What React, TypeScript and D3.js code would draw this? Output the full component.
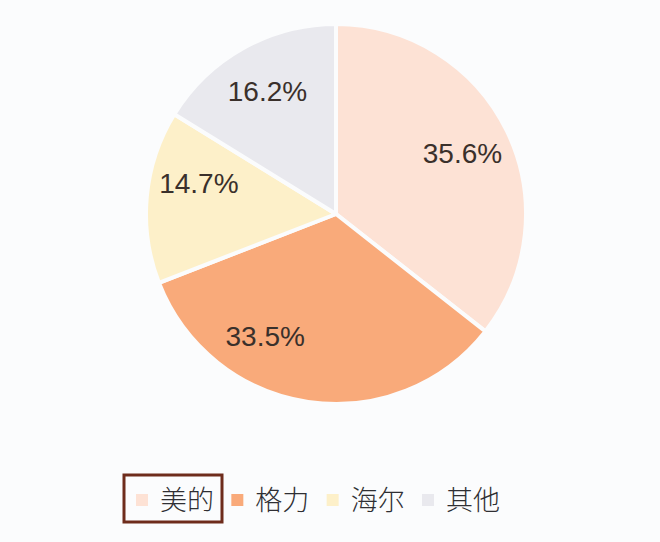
import React from 'react';
import * as d3 from 'd3';

// share of market, clockwise from 12 o'clock
const brands = ['美的', '格力', '海尔', '其他'];
const shares = [35.6, 33.5, 14.7, 16.2];
const colors = ['#fde2d5', '#f9aa7a', '#fdf0c9', '#e9e9ee'];
// the 格力 label sits off its centroid in the original
const labelTurn = [0, 0.38, 0.13, 0];

const W = 660;
const H = 542;
const cx = 336;
const cy = 214;
const R = 190;

export default function App() {
  const pie = d3.pie<number>().sort(null).value(d => d);
  const arcs = pie(shares);
  const arc = d3.arc<d3.PieArcDatum<number>>().innerRadius(0).outerRadius(R);
  const labelArc = d3.arc<d3.PieArcDatum<number>>().innerRadius(R * 0.74).outerRadius(R * 0.74);

  // legend layout
  const legendY = 500;
  const legendX = d3.scalePoint<string>().domain(brands).range([136, 422]);

  return (
    <svg width={W} height={H} style={{ position: 'absolute', left: 0, top: 0, background: '#fbfcfd' }}>
      <g transform={`translate(${cx},${cy})`}>
        {arcs.map((a, i) => (
          <path key={i} d={arc(a) || ''} fill={colors[i]} stroke="#fbfcfd" strokeWidth={4} strokeLinejoin="round" />
        ))}
        {arcs.map((a, i) => {
          const shifted = { ...a, startAngle: a.startAngle + labelTurn[i], endAngle: a.endAngle + labelTurn[i] };
          const [x, y] = labelArc.centroid(shifted);
          return (
            <text key={i} x={x} y={y} dy="0.36em" textAnchor="middle"
              fontFamily="'Liberation Sans', Arial, sans-serif" fontSize={28} fill="#3a302b">
              {shares[i].toFixed(1)}%
            </text>
          );
        })}
      </g>
      <g>
        <rect x={124} y={475} width={98} height={47} fill="none" stroke="#6e2c1c" strokeWidth={3} />
        {brands.map((b, i) => {
          const x = legendX(b) as number;
          return (
            <g key={b}>
              <rect x={x} y={legendY - 6} width={12} height={12} fill={colors[i]} />
              <text x={x + 24} y={legendY} dy="0.36em" fontFamily="'Noto Sans CJK SC', sans-serif"
                fontWeight={300} fontSize={27} fill="#2f2f33">{b}</text>
            </g>
          );
        })}
      </g>
    </svg>
  );
}
